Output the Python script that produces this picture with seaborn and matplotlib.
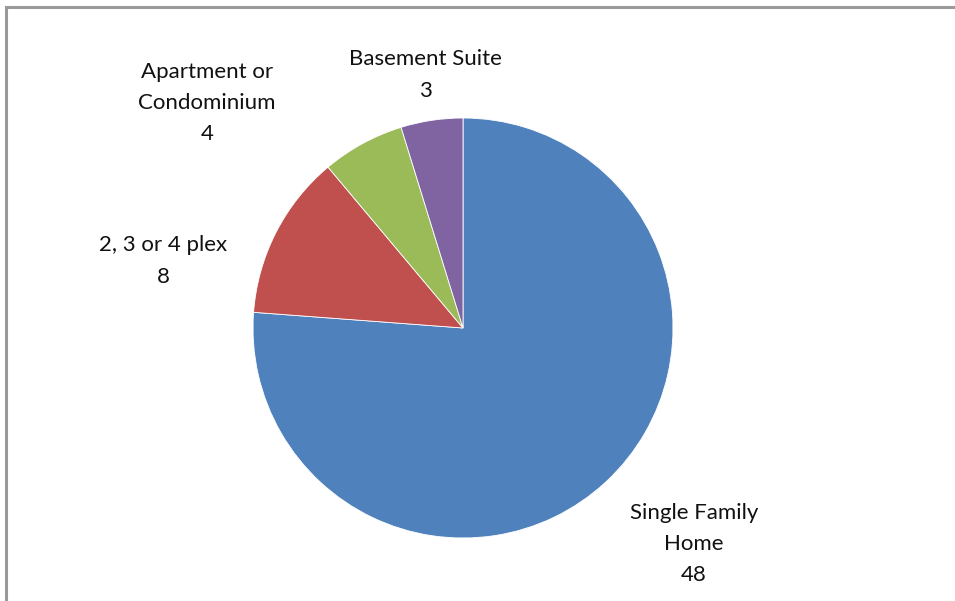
import matplotlib
matplotlib.use("Agg")
import matplotlib.pyplot as plt
import seaborn as sns
from matplotlib.patches import Rectangle

# Housing type counts
categories = ["Single Family\nHome", "2, 3 or 4 plex", "Apartment or\nCondominium", "Basement Suite"]
counts = [48, 8, 4, 3]
colors = ["#4F81BD", "#C0504D", "#9BBB59", "#8064A2"]

sns.set_style("white")
plt.rcParams['font.family'] = ['Lato', 'DejaVu Sans']

fig = plt.figure(figsize=(9.55, 6.01), dpi=100)
ax = fig.add_axes([0, 0, 1, 1])

labels = [f"{c}\n{v}" for c, v in zip(categories, counts)]
wedges, texts = ax.pie(counts, colors=colors, startangle=90, counterclock=False,
                       center=(463, 273), radius=210, labels=labels,
                       wedgeprops=dict(edgecolor="white", linewidth=0.6),
                       textprops=dict(fontsize=16, color="#111111", ha="center", va="center",
                                      multialignment="center"))

# pie() resets the limits, so set pixel-like limits afterwards
ax.set_xlim(0, 955)
ax.set_ylim(0, 601)
ax.set_aspect("equal")
ax.axis("off")

# Chart area border (only the left and top edges are visible)
ax.add_patch(Rectangle((6, -20), 980, 614, fill=False, edgecolor="#9a9a9a", linewidth=2.2, clip_on=False))

# Place labels like the original data labels
label_pos = [(694, 57), (163, 340), (207, 498), (425, 526)]
for t, p in zip(texts, label_pos):
    t.set_position(p)
    t.set_linespacing(1.7)

fig.savefig("out.png", dpi=100)
